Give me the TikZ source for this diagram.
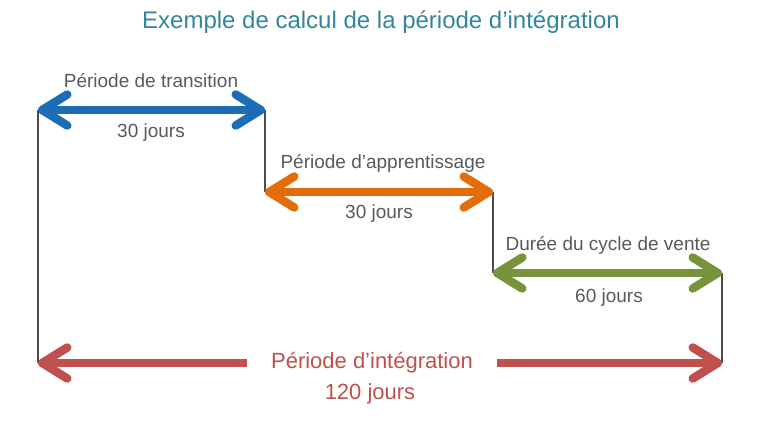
\documentclass[tikz,border=0pt]{standalone}
\usepackage{fontspec}
\setmainfont{Liberation Sans}
\usetikzlibrary{arrows.meta}
\definecolor{titleteal}{HTML}{31859C}
\definecolor{textgrey}{HTML}{595959}
\definecolor{spanblue}{HTML}{1C6DB6}
\definecolor{spanorange}{HTML}{E46C0A}
\definecolor{spangreen}{HTML}{77933C}
\definecolor{spanred}{HTML}{C0504D}
\tikzset{barb/.tip={Straight Barb[length=25pt,width=31pt,line cap=round,line join=round]}}
\begin{document}
\begin{tikzpicture}[x=1pt,y=-1pt,inner sep=0pt,outer sep=0pt,
lbl/.style={text=textgrey,font=\fontsize{19}{19}\selectfont},
biglbl/.style={text=spanred,font=\fontsize{22}{22}\selectfont},
span/.style={line width=8.5pt,barb-barb},
guide/.style={line width=1.3pt,draw=black!70}]
\useasboundingbox (0,0) rectangle (760,421);
\draw (381,22) node[text=titleteal,font=\fontsize{24}{24}\selectfont] (title) {Exemple de calcul de la période d’intégration};

% end points of the spans
\coordinate (t0) at (38,110);  \coordinate (t1) at (265,110);
\coordinate (a0) at (265,192); \coordinate (a1) at (493,192);
\coordinate (v0) at (493,273); \coordinate (v1) at (722,273);
\coordinate (i0) at (38,363);  \coordinate (i1) at (722,363);

\draw[guide] (t0) -- (i0);
\draw[guide] (t1) -- (a0);
\draw[guide] (a1) -- (v0);
\draw[guide] (v1) -- (i1);

\draw[span,spanblue] (t0) -- (t1);
\draw (151,81) node[lbl] (transL) {Période de transition};
\draw (151,133) node[lbl] (transD) {30 jours};

\draw[span,spanorange] (a0) -- (a1);
\draw (383,163) node[lbl] (apprL) {Période d’apprentissage};
\draw (379,214) node[lbl] (apprD) {30 jours};

\draw[span,spangreen] (v0) -- (v1);
\draw (608,245) node[lbl] (venteL) {Durée du cycle de vente};
\draw (609,298) node[lbl] (venteD) {60 jours};

\draw (372,363) node[biglbl,minimum width=250pt,minimum height=20pt] (integL) {Période d’intégration};
\draw (370,394) node[biglbl] (integD) {120 jours};
\draw[spanred,line width=8.5pt,barb-] (i0) -- (integL);
\draw[spanred,line width=8.5pt,-barb] (integL) -- (i1);
\end{tikzpicture}
\end{document}
